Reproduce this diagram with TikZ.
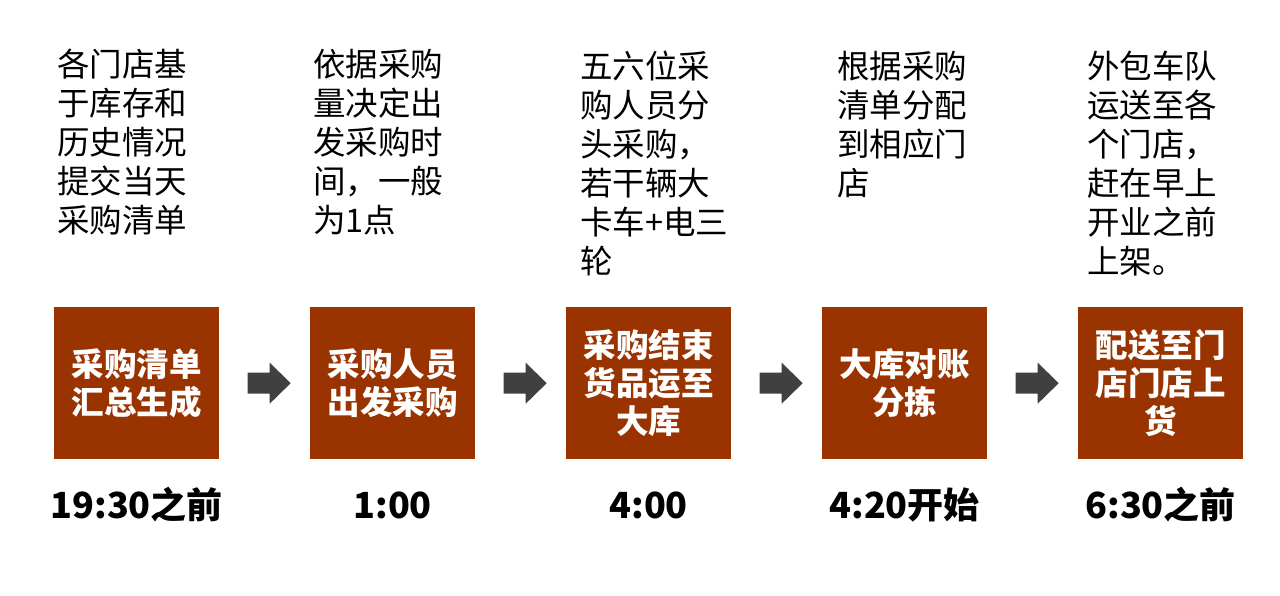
\documentclass[tikz,border=0pt]{standalone}
\usepackage{fontspec}
\usetikzlibrary{calc}
\setmainfont{Noto Sans CJK SC}
\definecolor{boxbrown}{HTML}{993300}
\definecolor{arrowgray}{HTML}{404040}
\tikzset{
  desc/.style={anchor=north west, inner sep=0pt, align=left, text=black,
    font=\fontsize{32.5}{39}\selectfont},
  stagebox/.style={fill=boxbrown, draw=none, minimum width=165pt, minimum height=152pt,
    inner sep=0pt, anchor=north west, align=center, text=white,
    font=\bfseries\fontsize{32.5}{38}\selectfont},
  timelabel/.style={inner sep=0pt, anchor=center, text=black,
    font=\bfseries\fontsize{36}{40}\selectfont},
  flowarrow/.style={fill=arrowgray, draw=none}
}
\begin{document}
\begin{tikzpicture}[x=1pt,y=-1pt]
\useasboundingbox (0,0) rectangle (1280,596);
\fill[white] (0,0) rectangle (1280,596);

% descriptions
\node[desc] (d1) at (57,49) {各门店基\\于库存和\\历史情况\\提交当天\\采购清单};
\node[desc] (d2) at (313,49) {依据采购\\量决定出\\发采购时\\间，一般\\为1点};
\node[desc] (d3) at (580,51) {五六位采\\购人员分\\头采购，\\若干辆大\\卡车+电三\\轮};
\node[desc] (d4) at (837,51) {根据采购\\清单分配\\到相应门\\店};
\node[desc] (d5) at (1087,51) {外包车队\\运送至各\\个门店，\\赶在早上\\开业之前\\上架。};

% boxes
\node[stagebox] (b1) at (54,307) {采购清单\\汇总生成};
\node[stagebox] (b2) at (310,307) {采购人员\\出发采购};
\node[stagebox] (b3) at (566,307) {采购结束\\货品运至\\大库};
\node[stagebox] (b4) at (822,307) {大库对账\\分拣};
\node[stagebox] (b5) at (1078,307) {配送至门\\店门店上\\货};

% time labels
\node[timelabel] (t1) at (b1.center |- 0,505) {19:30之前};
\node[timelabel] (t2) at (b2.center |- 0,505) {1:00};
\node[timelabel] (t3) at (b3.center |- 0,505) {4:00};
\node[timelabel] (t4) at (b4.center |- 0,505) {4:20开始};
\node[timelabel] (t5) at (b5.center |- 0,505) {6:30之前};

% arrows
\foreach \a/\b [count=\i] in {b1/b2,b2/b3,b3/b4,b4/b5}{
  \coordinate (m\i) at ($(\a.east)!0.5!(\b.west)+(4.5,0)$);
  \fill[flowarrow] ([shift={(-21.5,-10.5)}]m\i) -- ([shift={(0.5,-10.5)}]m\i)
    -- ([shift={(0.5,-20.5)}]m\i) -- ([shift={(21.5,0)}]m\i)
    -- ([shift={(0.5,20.5)}]m\i) -- ([shift={(0.5,10.5)}]m\i)
    -- ([shift={(-21.5,10.5)}]m\i) -- cycle;
}
\end{tikzpicture}
\end{document}
